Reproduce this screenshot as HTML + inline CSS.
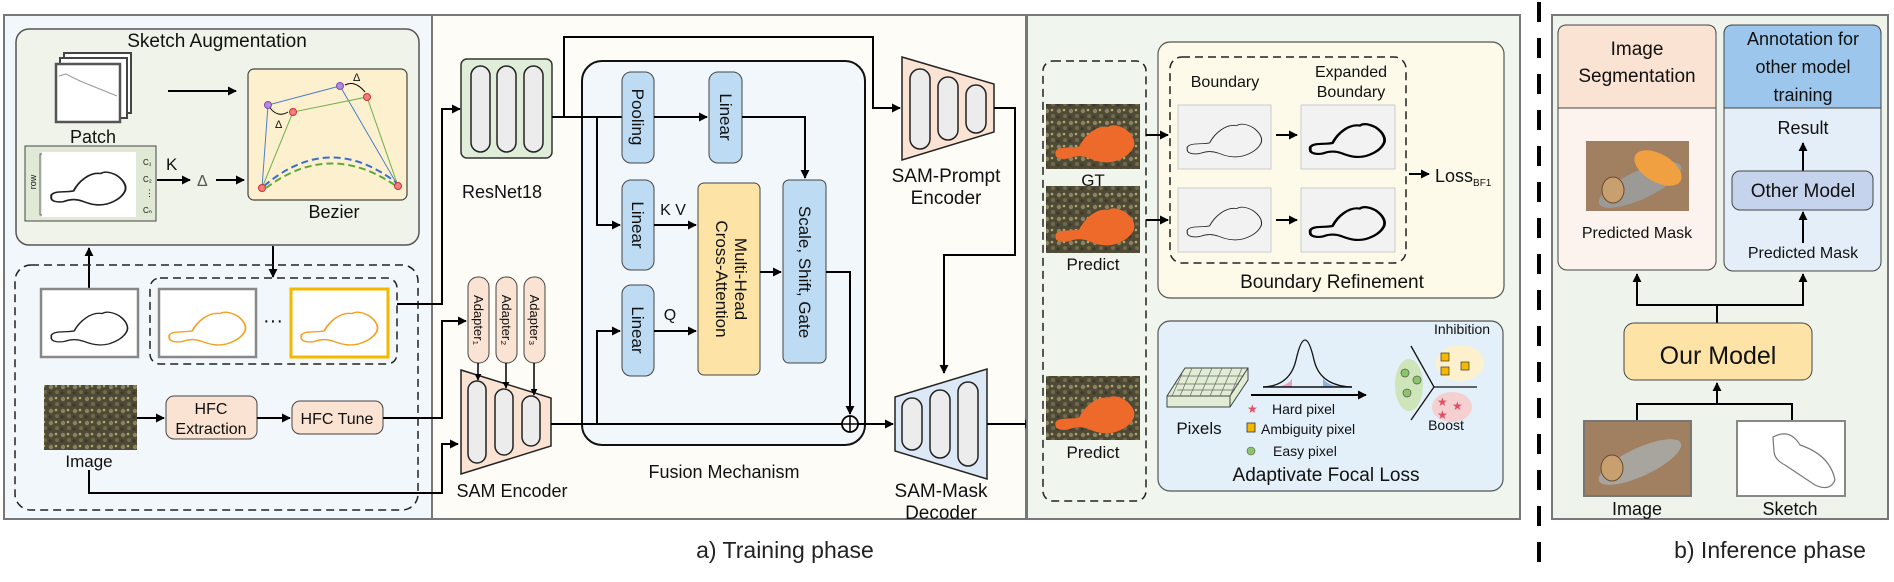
<!DOCTYPE html>
<html><head><meta charset="utf-8"><style>
html,body{margin:0;padding:0;background:#fff}
svg{display:block}
text{font-family:"Liberation Sans",sans-serif;fill:#111}
text.star{fill:#e05060}
</style></head><body>
<svg width="1894" height="582" viewBox="0 0 1894 582" xmlns="http://www.w3.org/2000/svg">
<defs>
<marker id="a" viewBox="0 0 10 10" refX="9" refY="5" markerWidth="4.5" markerHeight="4.5" orient="auto-start-reverse"><path d="M0,0L10,5L0,10z" fill="#000"/></marker>
<path id="fish" d="M4,52 C8,44 22,48 32,45 C38,30 52,14 66,17 C72,12 80,16 86,20 C95,28 99,38 96,46 C92,56 84,62 74,66 C62,70 52,66 44,62 C36,58 28,58 20,62 C12,64 4,62 4,56 Z"/>
<pattern id="gravel" width="12" height="12" patternUnits="userSpaceOnUse">
<rect width="12" height="12" fill="#4e4a36"/><circle cx="3" cy="3" r="2.2" fill="#8a8560"/><circle cx="9" cy="8" r="2" fill="#6f6b4c"/><circle cx="8" cy="2" r="1.3" fill="#b5a86a"/><circle cx="2" cy="9" r="1.5" fill="#3a382a"/>
</pattern>
</defs>

<!-- PANEL 1 -->
<rect x="4" y="15" width="428" height="504" fill="#f2f7fc" stroke="#777" stroke-width="2"/>
<rect x="16" y="29" width="403" height="216" rx="13" fill="#f0f3ea" stroke="#555" stroke-width="1.5"/>
<text x="217" y="47" font-size="19" text-anchor="middle">Sketch Augmentation</text>
<rect x="64" y="53" width="67" height="60" fill="#fff" stroke="#444" stroke-width="2"/>
<rect x="60" y="58" width="67" height="60" fill="#fff" stroke="#444" stroke-width="2"/>
<rect x="56" y="64" width="64" height="58" fill="#fff" stroke="#555" stroke-width="2.5"/>
<path d="M59,76 L66,74 L80,81 L117,96" fill="none" stroke="#999" stroke-width="1"/>
<text x="93" y="143" font-size="18" text-anchor="middle">Patch</text>
<line x1="168" y1="91" x2="236" y2="91" stroke="#000" stroke-width="2" marker-end="url(#a)"/>
<rect x="248" y="69" width="159" height="131" rx="6" fill="#fdf0cf" stroke="#444" stroke-width="1.2"/>
<path d="M262,188 L268,105 L340,86 L398,186" fill="none" stroke="#4a7fc9" stroke-width="1"/>
<path d="M262,188 L293,112 L367,97 L398,186" fill="none" stroke="#6cb04a" stroke-width="1"/>
<path d="M264,186 Q330,130 398,184" fill="none" stroke="#3a6fd0" stroke-width="2" stroke-dasharray="7,4"/>
<path d="M266,188 Q330,140 396,186" fill="none" stroke="#5aaa3a" stroke-width="2" stroke-dasharray="7,4"/>
<path d="M270,108 Q278,118 288,112" fill="none" stroke="#000" stroke-width="1"/>
<path d="M345,85 Q355,80 365,92" fill="none" stroke="#000" stroke-width="1"/>
<text x="275" y="128" font-size="11">Δ</text><text x="353" y="81" font-size="11">Δ</text>
<circle cx="268" cy="105" r="3.5" fill="#b48ae0" stroke="#7a4fb0"/><circle cx="340" cy="86" r="3.5" fill="#b48ae0" stroke="#7a4fb0"/>
<circle cx="293" cy="112" r="3.5" fill="#f08080" stroke="#d03030"/><circle cx="367" cy="97" r="3.5" fill="#f08080" stroke="#d03030"/>
<circle cx="262" cy="188" r="3.5" fill="#f08080" stroke="#d03030"/><circle cx="398" cy="186" r="3.5" fill="#f08080" stroke="#d03030"/>
<text x="334" y="218" font-size="18" text-anchor="middle">Bezier</text>
<rect x="25" y="146" width="131" height="75" fill="#dfe9d5" stroke="#444" stroke-width="1"/>
<rect x="42" y="152" width="94" height="65" fill="#fff"/>
<text x="36" y="182" font-size="9" transform="rotate(-90 36 182)" text-anchor="middle">row</text>
<path d="M42,154 L40,154 L40,215 L42,215" fill="none" stroke="#444" stroke-width="0.8"/>
<use href="#fish" transform="translate(48,163) scale(0.8,0.62)" fill="none" stroke="#222" stroke-width="2.5"/>
<text x="143" y="165" font-size="8">C₁</text><text x="143" y="182" font-size="8">C₂</text><text x="145" y="196" font-size="9">⋮</text><text x="143" y="213" font-size="8">Cₙ</text>
<line x1="157" y1="180" x2="190" y2="180" stroke="#000" stroke-width="2" marker-end="url(#a)"/>
<text x="166" y="170" font-size="17">K</text>
<text x="197" y="186" font-size="16" fill="#555" style="fill:#555">Δ</text>
<line x1="216" y1="180" x2="244" y2="180" stroke="#000" stroke-width="2" marker-end="url(#a)"/>
<line x1="89" y1="288" x2="89" y2="248" stroke="#000" stroke-width="2" marker-end="url(#a)"/>
<line x1="273" y1="246" x2="273" y2="277" stroke="#000" stroke-width="2" marker-end="url(#a)"/>
<rect x="15" y="265" width="403" height="245" rx="16" fill="none" stroke="#222" stroke-width="1.5" stroke-dasharray="8,5"/>
<rect x="150" y="278" width="247" height="86" rx="10" fill="none" stroke="#222" stroke-width="1.5" stroke-dasharray="8,5"/>
<rect x="41" y="289" width="97" height="68" fill="#fff" stroke="#888" stroke-width="2.5"/>
<use href="#fish" transform="translate(48,303) scale(0.82,0.62)" fill="none" stroke="#222" stroke-width="2"/>
<rect x="159" y="289" width="97" height="68" fill="#fff" stroke="#888" stroke-width="2.5"/>
<use href="#fish" transform="translate(166,303) scale(0.82,0.62)" fill="none" stroke="#f5a020" stroke-width="2.2"/>
<text x="273" y="327" font-size="20" text-anchor="middle">···</text>
<rect x="291" y="289" width="97" height="68" fill="#fff" stroke="#f5b800" stroke-width="3"/>
<use href="#fish" transform="translate(298,303) scale(0.82,0.62)" fill="none" stroke="#f5a020" stroke-width="2.2"/>
<rect x="44" y="385" width="93" height="65" fill="url(#gravel)"/>
<text x="89" y="467" font-size="17" text-anchor="middle">Image</text>
<line x1="137" y1="418" x2="164" y2="418" stroke="#000" stroke-width="2" marker-end="url(#a)"/>
<rect x="166" y="396" width="91" height="43" rx="8" fill="#fae3d3" stroke="#444" stroke-width="1"/>
<text x="211" y="414" font-size="16" text-anchor="middle">HFC</text><text x="211" y="434" font-size="16" text-anchor="middle">Extraction</text>
<line x1="257" y1="418" x2="290" y2="418" stroke="#000" stroke-width="2" marker-end="url(#a)"/>
<rect x="292" y="401" width="91" height="33" rx="8" fill="#fae3d3" stroke="#444" stroke-width="1"/>
<text x="337" y="424" font-size="16" text-anchor="middle">HFC Tune</text>

<!-- PANEL 2 -->
<rect x="432" y="15" width="594" height="504" fill="#fdfcf6" stroke="#777" stroke-width="2"/>
<polyline points="397,304 442,304 442,109 460,109" fill="none" stroke="#000" stroke-width="2" marker-end="url(#a)"/>
<polyline points="383,418 442,418 442,321 466,321" fill="none" stroke="#000" stroke-width="2" marker-end="url(#a)"/>
<polyline points="89,470 89,493 442,493 442,444 458,444" fill="none" stroke="#000" stroke-width="2" marker-end="url(#a)"/>
<rect x="461" y="59" width="91" height="99" rx="6" fill="#e0eed9" stroke="#333" stroke-width="1.5"/>
<rect x="471" y="66" width="19" height="86" rx="9.5" fill="#ececec" stroke="#222" stroke-width="1.5"/>
<rect x="497" y="66" width="19" height="86" rx="9.5" fill="#ececec" stroke="#222" stroke-width="1.5"/>
<rect x="524" y="66" width="19" height="86" rx="9.5" fill="#ececec" stroke="#222" stroke-width="1.5"/>
<text x="502" y="198" font-size="18" text-anchor="middle">ResNet18</text>
<rect x="582" y="61" width="283" height="384" rx="20" fill="#f2f7fc" stroke="#111" stroke-width="2"/>
<polyline points="552,117 564,117 564,37 873,37 873,108 900,108" fill="none" stroke="#000" stroke-width="2" marker-end="url(#a)"/>
<line x1="552" y1="117" x2="622" y2="117" stroke="#000" stroke-width="2"/>
<polyline points="597,117 597,225 620,225" fill="none" stroke="#000" stroke-width="2" marker-end="url(#a)"/>
<rect x="622" y="72" width="32" height="91" rx="9" fill="#bddcf4" stroke="#444" stroke-width="1"/>
<text font-size="17" transform="translate(632,117) rotate(90)" text-anchor="middle">Pooling</text>
<line x1="654" y1="117" x2="707" y2="117" stroke="#000" stroke-width="2" marker-end="url(#a)"/>
<rect x="709" y="72" width="33" height="91" rx="9" fill="#bddcf4" stroke="#444" stroke-width="1"/>
<text font-size="17" transform="translate(720,117) rotate(90)" text-anchor="middle">Linear</text>
<polyline points="742,117 805,117 805,178" fill="none" stroke="#000" stroke-width="2" marker-end="url(#a)"/>
<rect x="622" y="180" width="32" height="90" rx="9" fill="#bddcf4" stroke="#444" stroke-width="1"/>
<text font-size="17" transform="translate(632,225) rotate(90)" text-anchor="middle">Linear</text>
<line x1="654" y1="225" x2="696" y2="225" stroke="#000" stroke-width="2" marker-end="url(#a)"/>
<text x="673" y="215" font-size="16" text-anchor="middle">K V</text>
<rect x="622" y="285" width="32" height="91" rx="9" fill="#bddcf4" stroke="#444" stroke-width="1"/>
<text font-size="17" transform="translate(632,330) rotate(90)" text-anchor="middle">Linear</text>
<line x1="654" y1="331" x2="696" y2="331" stroke="#000" stroke-width="2" marker-end="url(#a)"/>
<text x="670" y="320" font-size="16" text-anchor="middle">Q</text>
<polyline points="597,424 597,331 620,331" fill="none" stroke="#000" stroke-width="2" marker-end="url(#a)"/>
<rect x="698" y="183" width="62" height="192" rx="6" fill="#fde4a6" stroke="#444" stroke-width="1"/>
<text font-size="17" transform="translate(735,279) rotate(90)" text-anchor="middle">Multi-Head</text>
<text font-size="17" transform="translate(716,279) rotate(90)" text-anchor="middle">Cross-Attention</text>
<line x1="760" y1="272" x2="781" y2="272" stroke="#000" stroke-width="2" marker-end="url(#a)"/>
<rect x="783" y="180" width="43" height="183" rx="6" fill="#bddcf4" stroke="#444" stroke-width="1"/>
<text font-size="17" transform="translate(799,272) rotate(90)" text-anchor="middle">Scale, Shift, Gate</text>
<polyline points="826,272 850,272 850,414" fill="none" stroke="#000" stroke-width="2" marker-end="url(#a)"/>
<rect x="468" y="277" width="21" height="86" rx="10" fill="#fae3d3" stroke="#444" stroke-width="1"/>
<rect x="496" y="277" width="21" height="86" rx="10" fill="#fae3d3" stroke="#444" stroke-width="1"/>
<rect x="524" y="277" width="21" height="86" rx="10" fill="#fae3d3" stroke="#444" stroke-width="1"/>
<text font-size="13" transform="translate(474,320) rotate(90)" text-anchor="middle">Adapter₁</text>
<text font-size="13" transform="translate(502,320) rotate(90)" text-anchor="middle">Adapter₂</text>
<text font-size="13" transform="translate(530,320) rotate(90)" text-anchor="middle">Adapter₃</text>
<path d="M461,370 L551,398 L551,446 L461,474 Z" fill="#fae3d3" stroke="#222" stroke-width="1.5"/>
<rect x="468" y="381" width="18" height="82" rx="9" fill="#ececec" stroke="#222" stroke-width="1.5"/>
<rect x="495" y="389" width="18" height="66" rx="9" fill="#ececec" stroke="#222" stroke-width="1.5"/>
<rect x="522" y="396" width="18" height="50" rx="9" fill="#ececec" stroke="#222" stroke-width="1.5"/>
<line x1="478" y1="363" x2="478" y2="380" stroke="#000" stroke-width="1.5" marker-end="url(#a)"/>
<line x1="506" y1="363" x2="506" y2="388" stroke="#000" stroke-width="1.5" marker-end="url(#a)"/>
<line x1="534" y1="363" x2="534" y2="395" stroke="#000" stroke-width="1.5" marker-end="url(#a)"/>
<text x="512" y="497" font-size="18" text-anchor="middle">SAM Encoder</text>
<line x1="551" y1="424" x2="842" y2="424" stroke="#000" stroke-width="2"/>
<circle cx="850" cy="424" r="8" fill="#fff" stroke="#000" stroke-width="1.8"/>
<path d="M842,424H858M850,416V432" stroke="#000" stroke-width="1.5"/>
<text x="724" y="478" font-size="18" text-anchor="middle">Fusion Mechanism</text>
<path d="M902,57 L994,84 L994,132 L902,160 Z" fill="#fae3d3" stroke="#222" stroke-width="1.5"/>
<rect x="910" y="69" width="20" height="80" rx="10" fill="#ececec" stroke="#222" stroke-width="1.5"/>
<rect x="938" y="77" width="20" height="63" rx="10" fill="#ececec" stroke="#222" stroke-width="1.5"/>
<rect x="966" y="85" width="20" height="48" rx="10" fill="#ececec" stroke="#222" stroke-width="1.5"/>
<text x="946" y="182" font-size="19" text-anchor="middle">SAM-Prompt</text>
<text x="946" y="204" font-size="19" text-anchor="middle">Encoder</text>
<polyline points="994,108 1015,108 1015,255 944,255 944,373" fill="none" stroke="#000" stroke-width="2" marker-end="url(#a)"/>
<line x1="858" y1="424" x2="893" y2="424" stroke="#000" stroke-width="2" marker-end="url(#a)"/>
<path d="M895,397 L987,369 L987,479 L895,451 Z" fill="#dce8f5" stroke="#222" stroke-width="1.5"/>
<rect x="902" y="398" width="20" height="52" rx="10" fill="#ececec" stroke="#222" stroke-width="1.5"/>
<rect x="930" y="390" width="20" height="68" rx="10" fill="#ececec" stroke="#222" stroke-width="1.5"/>
<rect x="958" y="382" width="20" height="84" rx="10" fill="#ececec" stroke="#222" stroke-width="1.5"/>
<text x="941" y="497" font-size="19" text-anchor="middle">SAM-Mask</text>
<text x="941" y="519" font-size="19" text-anchor="middle">Decoder</text>
<line x1="987" y1="424" x2="1033" y2="424" stroke="#000" stroke-width="2" marker-end="url(#a)"/>

<!-- PANEL 3 -->
<rect x="1027" y="15" width="493" height="504" fill="#f0f5ee" stroke="#777" stroke-width="2"/>
<rect x="1043" y="61" width="103" height="440" rx="10" fill="none" stroke="#222" stroke-width="1.5" stroke-dasharray="8,5"/>
<rect x="1046" y="104" width="94" height="65" fill="url(#gravel)"/>
<use href="#fish" transform="translate(1052,115) scale(0.85,0.7)" fill="#ee6a2a"/>
<text x="1093" y="186" font-size="17" text-anchor="middle">GT</text>
<rect x="1046" y="186" width="94" height="67" fill="url(#gravel)"/>
<use href="#fish" transform="translate(1052,198) scale(0.85,0.7)" fill="#ee6a2a"/>
<text x="1093" y="270" font-size="17" text-anchor="middle">Predict</text>
<rect x="1046" y="376" width="94" height="64" fill="url(#gravel)"/>
<use href="#fish" transform="translate(1052,386) scale(0.85,0.7)" fill="#ee6a2a"/>
<text x="1093" y="458" font-size="17" text-anchor="middle">Predict</text>
<rect x="1158" y="42" width="346" height="256" rx="12" fill="#fdfaea" stroke="#555" stroke-width="1.2"/>
<rect x="1170" y="57" width="236" height="206" rx="12" fill="none" stroke="#222" stroke-width="1.5" stroke-dasharray="8,5"/>
<line x1="1146" y1="135" x2="1168" y2="135" stroke="#000" stroke-width="2" marker-end="url(#a)"/>
<line x1="1146" y1="220" x2="1168" y2="220" stroke="#000" stroke-width="2" marker-end="url(#a)"/>
<text x="1225" y="87" font-size="16" text-anchor="middle">Boundary</text>
<text x="1351" y="77" font-size="16" text-anchor="middle">Expanded</text>
<text x="1351" y="97" font-size="16" text-anchor="middle">Boundary</text>
<rect x="1178" y="105" width="93" height="64" fill="#f2f2f2" stroke="#ccc"/>
<rect x="1301" y="105" width="94" height="64" fill="#f2f2f2" stroke="#ccc"/>
<rect x="1178" y="188" width="93" height="64" fill="#f2f2f2" stroke="#ccc"/>
<rect x="1301" y="188" width="94" height="64" fill="#f2f2f2" stroke="#ccc"/>
<use href="#fish" transform="translate(1184,115) scale(0.8,0.62)" fill="none" stroke="#222" stroke-width="1.3"/>
<use href="#fish" transform="translate(1307,115) scale(0.8,0.62)" fill="none" stroke="#000" stroke-width="3.5"/>
<use href="#fish" transform="translate(1184,198) scale(0.8,0.62)" fill="none" stroke="#222" stroke-width="1.3"/>
<use href="#fish" transform="translate(1307,198) scale(0.8,0.62)" fill="none" stroke="#000" stroke-width="3.5"/>
<line x1="1276" y1="135" x2="1297" y2="135" stroke="#000" stroke-width="2" marker-end="url(#a)"/>
<line x1="1276" y1="220" x2="1297" y2="220" stroke="#000" stroke-width="2" marker-end="url(#a)"/>
<line x1="1409" y1="174" x2="1429" y2="174" stroke="#000" stroke-width="2" marker-end="url(#a)"/>
<text x="1435" y="182" font-size="18">Loss<tspan font-size="10" dy="4">BF1</tspan></text>
<text x="1332" y="288" font-size="19" text-anchor="middle">Boundary Refinement</text>
<rect x="1158" y="321" width="345" height="170" rx="12" fill="#e3eff9" stroke="#555" stroke-width="1.2"/>
<path d="M1167,396 L1185,368 L1248,368 L1248,380 L1230,407 L1167,407 Z" fill="#e0ecd4" stroke="#444" stroke-width="1"/>
<path d="M1167,396 L1230,396 L1248,368 M1230,396 L1230,407" fill="none" stroke="#444" stroke-width="1"/>
<path d="M1175,384 L1239,384 M1180,376 L1244,376 M1177,390 L1235,390 M1182,374 L1172,396 M1192,368 L1180,396 M1202,368 L1190,396 M1212,368 L1200,396 M1222,368 L1210,396 M1232,368 L1220,396 M1242,368 L1230,396" stroke="#666" stroke-width="0.7"/>
<text x="1199" y="434" font-size="17" text-anchor="middle">Pixels</text>
<path d="M1275,387 Q1290,385 1292,378 L1292,387 Z" fill="#f09cc6"/>
<path d="M1323,378 Q1326,385 1342,387 L1323,387 Z" fill="#8fb3dc"/>
<path d="M1263,387 Q1290,386 1296,360 Q1305,320 1314,360 Q1320,386 1352,387" fill="none" stroke="#111" stroke-width="1.3"/>
<line x1="1263" y1="387" x2="1352" y2="387" stroke="#111" stroke-width="1.5"/>
<line x1="1251" y1="395" x2="1366" y2="395" stroke="#000" stroke-width="2" marker-end="url(#a)"/>
<text class="star" x="1247" y="413" font-size="12">★</text><text x="1272" y="414" font-size="14">Hard pixel</text>
<rect x="1247" y="423" width="8" height="9" fill="#f5b800" stroke="#333" stroke-width="0.8"/><text x="1261" y="434" font-size="14">Ambiguity pixel</text>
<circle cx="1251" cy="451" r="4" fill="#8cc46a" stroke="#555" stroke-width="0.6"/><text x="1273" y="456" font-size="14">Easy pixel</text>
<text x="1326" y="481" font-size="19" text-anchor="middle">Adaptivate Focal Loss</text>
<ellipse cx="1409" cy="385" rx="14" ry="26" fill="#cde5b8"/>
<ellipse cx="1460" cy="363" rx="24" ry="18" fill="#fdf0cc"/>
<ellipse cx="1452" cy="407" rx="20" ry="15" fill="#f5d0d0"/>
<path d="M1411,346 L1434,387 L1411,420 M1434,387 L1477,387" fill="none" stroke="#111" stroke-width="1.3"/>
<circle cx="1405" cy="373" r="4" fill="#8cc46a" stroke="#555" stroke-width="0.7"/><circle cx="1417" cy="380" r="4" fill="#8cc46a" stroke="#555" stroke-width="0.7"/><circle cx="1407" cy="393" r="4" fill="#8cc46a" stroke="#555" stroke-width="0.7"/>
<rect x="1441" y="353" width="8" height="8" fill="#f5b800" stroke="#333" stroke-width="0.7"/><rect x="1441" y="367" width="8" height="8" fill="#f5b800" stroke="#333" stroke-width="0.7"/><rect x="1461" y="362" width="8" height="8" fill="#f5b800" stroke="#333" stroke-width="0.7"/>
<text class="star" x="1437" y="406" font-size="12">★</text><text class="star" x="1452" y="410" font-size="12">★</text><text class="star" x="1437" y="419" font-size="12">★</text>
<text x="1462" y="334" font-size="14" text-anchor="middle">Inhibition</text>
<text x="1446" y="430" font-size="14" text-anchor="middle">Boost</text>

<text x="785" y="558" font-size="23" text-anchor="middle" style="fill:#222">a) Training phase</text>

<line x1="1539" y1="2" x2="1539" y2="562" stroke="#000" stroke-width="4" stroke-dasharray="20,16"/>

<!-- PANEL 4 -->
<rect x="1552" y="15" width="336" height="504" fill="#eef3ec" stroke="#777" stroke-width="2"/>
<rect x="1558" y="25" width="158" height="245" rx="9" fill="#fdf3ee" stroke="#444" stroke-width="1"/>
<path d="M1558,108 L1558,34 Q1558,25 1567,25 L1707,25 Q1716,25 1716,34 L1716,108 Z" fill="#fae3d3" stroke="#444" stroke-width="1"/>
<text x="1637" y="55" font-size="19" text-anchor="middle">Image</text>
<text x="1637" y="82" font-size="19" text-anchor="middle">Segmentation</text>
<rect x="1586" y="141" width="103" height="70" fill="#a08060"/>
<ellipse cx="1640" cy="185" rx="45" ry="14" fill="#9c9a96" transform="rotate(-25 1640 185)"/>
<ellipse cx="1613" cy="190" rx="11" ry="13" fill="#c8a070" stroke="#6a4a2a"/>
<ellipse cx="1658" cy="168" rx="26" ry="14" fill="#f0a040" transform="rotate(30 1658 168)"/>
<text x="1637" y="238" font-size="16" text-anchor="middle">Predicted Mask</text>
<rect x="1724" y="25" width="157" height="246" rx="9" fill="#e3eef9" stroke="#444" stroke-width="1"/>
<path d="M1724,108 L1724,34 Q1724,25 1733,25 L1872,25 Q1881,25 1881,34 L1881,108 Z" fill="#9cc6ec" stroke="#444" stroke-width="1"/>
<text x="1803" y="45" font-size="18" text-anchor="middle">Annotation for</text>
<text x="1803" y="73" font-size="18" text-anchor="middle">other model</text>
<text x="1803" y="101" font-size="18" text-anchor="middle">training</text>
<text x="1803" y="134" font-size="18" text-anchor="middle">Result</text>
<line x1="1803" y1="171" x2="1803" y2="143" stroke="#000" stroke-width="2" marker-end="url(#a)"/>
<rect x="1732" y="171" width="141" height="39" rx="8" fill="#c5d3ec" stroke="#444" stroke-width="1"/>
<text x="1803" y="197" font-size="19" text-anchor="middle">Other Model</text>
<line x1="1803" y1="243" x2="1803" y2="212" stroke="#000" stroke-width="2" marker-end="url(#a)"/>
<text x="1803" y="258" font-size="16" text-anchor="middle">Predicted Mask</text>
<polyline points="1717,323 1717,305 1637,305 1637,274" fill="none" stroke="#000" stroke-width="2" marker-end="url(#a)"/>
<polyline points="1717,305 1803,305 1803,274" fill="none" stroke="#000" stroke-width="2" marker-end="url(#a)"/>
<rect x="1624" y="323" width="188" height="57" rx="10" fill="#fde4a6" stroke="#444" stroke-width="1"/>
<text x="1718" y="364" font-size="25" text-anchor="middle">Our Model</text>
<polyline points="1637,421 1637,404 1792,404 1792,421" fill="none" stroke="#000" stroke-width="2"/>
<line x1="1717" y1="404" x2="1717" y2="383" stroke="#000" stroke-width="2" marker-end="url(#a)"/>
<rect x="1584" y="421" width="107" height="75" fill="#a08060" stroke="#777" stroke-width="2"/>
<ellipse cx="1640" cy="462" rx="45" ry="14" fill="#a8a49e" transform="rotate(-25 1640 462)"/>
<ellipse cx="1612" cy="468" rx="11" ry="13" fill="#c8a070" stroke="#6a4a2a"/>
<rect x="1737" y="421" width="108" height="75" fill="#fff" stroke="#888" stroke-width="2"/>
<path d="M1773,437 Q1790,428 1800,445 Q1830,455 1835,480 Q1830,492 1815,485 L1785,465 Q1775,460 1774,452 Z" fill="none" stroke="#777" stroke-width="1.2"/>
<text x="1637" y="515" font-size="18" text-anchor="middle">Image</text>
<text x="1790" y="515" font-size="18" text-anchor="middle">Sketch</text>
<text x="1770" y="558" font-size="23" text-anchor="middle" style="fill:#222">b) Inference phase</text>
</svg>
</body></html>
